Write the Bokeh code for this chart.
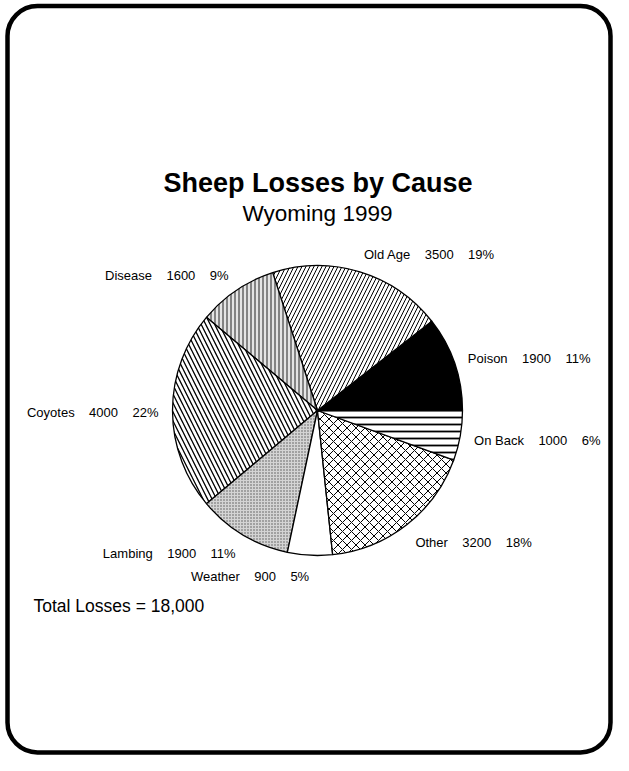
import math
from bokeh.plotting import figure
from bokeh.models import Range1d
from bokeh.embed import file_html
from bokeh.resources import INLINE
from bokeh.core.properties import value

# ---------------- data ----------------
categories = ["Poison", "Old Age", "Disease", "Coyotes", "Lambing", "Weather", "Other", "On Back"]
losses = [1900, 3500, 1600, 4000, 1900, 900, 3200, 1000]
title_text = "Sheep Losses by Cause"
subtitle_text = "Wyoming 1999"
total_prefix = "Total Losses = "

# ---------------- styles ----------------
fill_colors = ["black", "white", "#e4e4e4", "white", "#d4d4d4", "white", "white", "white"]
hatch_patterns = [None, "/", "|", "\\", ".", None, "x", "-"]
hatch_scales = [8, 8, 4, 9, 3, 8, 9, 7]
hatch_weights = [1, 1, 1, 1.3, 0.6, 1, 1, 1.8]
hatch_colors = ["black", "black", "#222222", "black", "#555555", "black", "black", "black"]

FONT = "Liberation Sans"
W, H = 613, 755
CX, CY, R = 317, H - 410, 145
LRX, LRY = 159, 165
LABEL_DY = -1.5


def fy(y):
    return H - y


p = figure(width=W, height=H, x_range=Range1d(0, W), y_range=Range1d(0, H),
           output_backend="svg", toolbar_location=None, min_border=0)
p.axis.visible = False
p.grid.visible = False
p.outline_line_color = None
p.background_fill_color = "white"
p.border_fill_color = "white"

total = sum(losses)
start = 0.0
sp = "\u00a0" * 4
for i, (cat, v) in enumerate(zip(categories, losses)):
    ang = 2 * math.pi * v / total
    end = start + ang
    kw = dict(x=CX, y=CY, radius=R, start_angle=start, end_angle=end, direction="anticlock",
              fill_color=fill_colors[i], line_color="black", line_width=1.3)
    if hatch_patterns[i]:
        kw.update(hatch_pattern=hatch_patterns[i], hatch_scale=hatch_scales[i],
                  hatch_weight=hatch_weights[i], hatch_color=hatch_colors[i])
    p.wedge(**kw)
    mid = (start + end) / 2
    lx = CX + LRX * math.cos(mid)
    ly = CY + LRY * math.sin(mid) + LABEL_DY
    pct = round(100 * v / total)
    label = f"{cat}{sp}{v}{sp}{pct}%"
    p.text(x=[lx], y=[ly], text=[label], text_font=value(FONT), text_font_size="13px",
           text_align="left" if math.cos(mid) >= 0 else "right", text_baseline="middle",
           text_color="black")
    start = end

p.text(x=[317.5], y=[fy(182)], text=[title_text], text_font=value(FONT), text_font_size="27px",
       text_font_style="bold", text_align="center", text_baseline="middle", text_color="black")
p.text(x=[317], y=[fy(213)], text=[subtitle_text], text_font=value(FONT), text_font_size="22.5px",
       text_align="center", text_baseline="middle", text_color="black")
p.text(x=[33], y=[fy(605)], text=[f"{total_prefix}{total:,}"], text_font=value(FONT),
       text_font_size="17.5px", text_align="left", text_baseline="middle", text_color="black")

# rounded frame
p.quad(left=7, right=W - 3, bottom=3, top=fy(5.5), fill_color=None,
       line_color="black", line_width=4.5, border_radius=30)

open("out.html", "w").write(file_html(p, INLINE))
